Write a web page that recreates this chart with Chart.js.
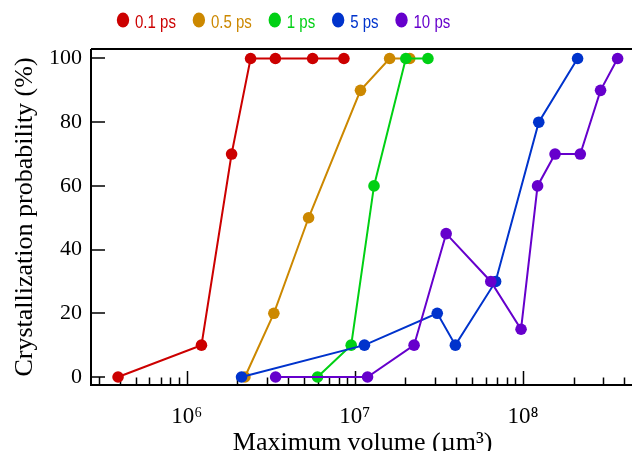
<!DOCTYPE html>
<html><head><meta charset="utf-8">
<script src="https://cdn.jsdelivr.net/npm/chart.js@4.4.0/dist/chart.umd.min.js"></script>
<style>
html,body{margin:0;padding:0;overflow:hidden;background:#fff;width:632px;height:451px}
#wrap{position:relative;width:640px;height:451px}
</style></head>
<body><div id="wrap"><canvas id="c" width="640" height="451"></canvas></div>
<script>
// ---- data ----
const seriesLabels = ['0.1 ps', '0.5 ps', '1 ps', '5 ps', '10 ps'];
const seriesColors = ['rgb(204,0,0)', 'rgb(204,136,0)', 'rgb(0,208,20)', 'rgb(0,51,204)', 'rgb(102,0,204)'];

const vol01 = [3.91e5, 1.225e6, 1.85e6, 2.40e6, 3.37e6, 5.61e6, 8.61e6];
const prob01 = [0, 10, 70, 100, 100, 100, 100];

const vol05 = [2.22e6, 3.30e6, 5.31e6, 1.08e7, 1.61e7, 2.12e7];
const prob05 = [0, 20, 50, 90, 100, 100];

const vol1 = [6.00e6, 9.51e6, 1.30e7, 2.01e7, 2.72e7];
const prob1 = [0, 10, 60, 100, 100];

const vol5 = [2.12e6, 1.14e7, 3.09e7, 3.96e7, 6.87e7, 1.24e8, 2.11e8];
const prob5 = [0, 10, 20, 10, 30, 80, 100];

const vol10 = [3.38e6, 1.19e7, 2.25e7, 3.49e7, 6.43e7, 9.73e7, 1.22e8, 1.55e8, 2.19e8, 2.89e8, 3.65e8];
const prob10 = [0, 0, 10, 45, 30, 15, 60, 70, 70, 90, 100];

const xMajorTicks = [1e6, 1e7, 1e8];
const xTickLabels = ['10\u2076', '10\u2077', '10\u2078'];
const yTicks = [0, 20, 40, 60, 80, 100];

const xTitle = 'Maximum volume (\u00B5m\u00B3)';
const yTitle = 'Crystallization probability (%)';

// ---- build ----
const vols = [vol01, vol05, vol1, vol5, vol10];
const probs = [prob01, prob05, prob1, prob5, prob10];
const datasets = seriesLabels.map((lab, i) => ({
  label: lab,
  data: vols[i].map((v, j) => ({x: v, y: probs[i][j]})),
  borderColor: seriesColors[i],
  backgroundColor: seriesColors[i],
  pointBackgroundColor: seriesColors[i],
  pointBorderWidth: 0,
  pointRadius: 5.8,
  borderWidth: 2,
  tension: 0,
  showLine: true,
  order: seriesLabels.length - i
}));

const serif = "'Liberation Serif', 'Times New Roman', serif";
const legendFont = "19px 'Liberation Sans', Arial, sans-serif";
const legendSquash = 0.79;

const axesPlugin = {
  id: 'axesPlugin',
  beforeDatasetsDraw(chart) {
    const ctx = chart.ctx, a = chart.chartArea;
    const xs = chart.scales.x, ys = chart.scales.y;
    ctx.save();
    ctx.strokeStyle = '#000';
    ctx.lineWidth = 2;
    ctx.beginPath();
    ctx.moveTo(a.left, a.top); ctx.lineTo(a.right, a.top);
    ctx.moveTo(a.left, a.top); ctx.lineTo(a.left, a.bottom);
    ctx.moveTo(a.left - 1, a.bottom); ctx.lineTo(a.right, a.bottom);
    ctx.moveTo(a.right, a.top); ctx.lineTo(a.right, a.bottom);
    ctx.stroke();
    ctx.lineWidth = 1.5;
    ctx.beginPath();
    yTicks.forEach(v => {
      const p = Math.round(ys.getPixelForValue(v));
      ctx.moveTo(a.left, p); ctx.lineTo(a.left + 14, p);
    });
    const lo = Math.floor(Math.log10(xs.min)), hi = Math.ceil(Math.log10(xs.max));
    for (let e = lo; e <= hi; e++) {
      for (let m = 1; m <= 9; m++) {
        const v = m * Math.pow(10, e);
        if (v < xs.min || v > xs.max) continue;
        const p = Math.round(xs.getPixelForValue(v)) + 0.5;
        const len = m === 1 ? 14 : 7.5;
        ctx.moveTo(p, a.bottom); ctx.lineTo(p, a.bottom - len);
      }
    }
    ctx.stroke();
    ctx.restore();
  },
  afterDraw(chart) {
    const ctx = chart.ctx;
    ctx.save();
    ctx.font = legendFont;
    ctx.textBaseline = 'alphabetic';
    ctx.textAlign = 'left';
    let cursor = 117;
    const cy = 20;
    chart.data.datasets.forEach(ds => {
      ctx.fillStyle = ds.borderColor;
      ctx.beginPath();
      ctx.ellipse(cursor + 6, cy, 6.2, 7.6, 0, 0, Math.PI * 2);
      ctx.fill();
      const tx = cursor + 18;
      const w = ctx.measureText(ds.label).width * legendSquash;
      ctx.save();
      ctx.translate(tx, 27.5);
      ctx.scale(legendSquash, 1);
      ctx.fillText(ds.label, 0, 0);
      ctx.restore();
      cursor = tx + w + 17;
    });
    ctx.restore();
  }
};

new Chart(document.getElementById('c'), {
  type: 'scatter',
  data: {datasets},
  options: {
    responsive: false,
    animation: false,
    devicePixelRatio: 1,
    layout: {padding: {top: 49, left: 0, right: 0, bottom: 0}},
    plugins: {legend: {display: false}, tooltip: {enabled: false}},
    scales: {
      x: {
        type: 'logarithmic',
        min: 2.70e5,
        max: 4.58e8,
        afterBuildTicks: s => { s.ticks = xMajorTicks.map(v => ({value: v, major: true})); },
        afterFit: s => { s.height = 66; },
        ticks: {
          callback: (v, i) => xTickLabels[i],
          font: {family: serif, size: 23},
          color: '#000',
          padding: 18,
          maxRotation: 0,
          autoSkip: false
        },
        grid: {display: false, drawTicks: false},
        border: {display: false},
        title: {display: true, text: xTitle, color: '#000', font: {family: serif, size: 26, lineHeight: 1.2}, padding: {top: 0, bottom: -8}}
      },
      y: {
        type: 'linear',
        min: -2.51,
        max: 102.98,
        afterBuildTicks: s => { s.ticks = yTicks.map(v => ({value: v})); },
        afterFit: s => { s.width = 91; },
        ticks: {font: {family: serif, size: 22}, color: '#000', padding: 9},
        grid: {display: false, drawTicks: false},
        border: {display: false},
        title: {display: true, text: yTitle, color: '#000', font: {family: serif, size: 26, lineHeight: 1.2}, padding: {top: 10, bottom: 0}}
      }
    }
  },
  plugins: [axesPlugin]
});
</script>
</body></html>
